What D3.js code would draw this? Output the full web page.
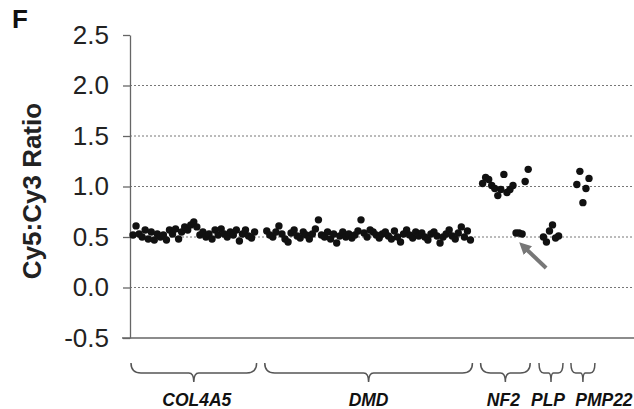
<!DOCTYPE html>
<html>
<head>
<meta charset="utf-8">
<title>Cy5:Cy3 Ratio</title>
<script src="https://cdnjs.cloudflare.com/ajax/libs/d3/7.8.5/d3.min.js"></script>
<style>
body { margin:0; background:#fff; }
svg text { font-family: Arial, "Liberation Sans", sans-serif; }
</style>
</head>
<body>
<script>
// chart data
var genes = ["COL4A5", "DMD", "NF2", "PLP", "PMP22"];
// empty probe slots between one gene and the next
var gaps = [3, 3, 4, 5];

var col4a5 = [0.52, 0.61, 0.53, 0.50, 0.57, 0.48, 0.55, 0.47, 0.53, 0.50, 0.52,
              0.47, 0.57, 0.53, 0.58, 0.48, 0.55, 0.60, 0.57, 0.62, 0.65, 0.60,
              0.52, 0.55, 0.50, 0.53, 0.48, 0.57, 0.52, 0.58, 0.53, 0.50, 0.55,
              0.52, 0.57, 0.46, 0.53, 0.57, 0.51, 0.49, 0.55];
var dmd = [0.56, 0.52, 0.50, 0.55, 0.61, 0.53, 0.48, 0.45, 0.54, 0.57, 0.51,
           0.49, 0.55, 0.52, 0.48, 0.53, 0.58, 0.67, 0.52, 0.50, 0.55, 0.48,
           0.53, 0.44, 0.51, 0.55, 0.50, 0.53, 0.49, 0.52, 0.56, 0.67, 0.54,
           0.50, 0.57, 0.55, 0.52, 0.49, 0.53, 0.55, 0.51, 0.48, 0.56, 0.50,
           0.45, 0.53, 0.57, 0.52, 0.49, 0.55, 0.51, 0.54, 0.50, 0.47, 0.53,
           0.55, 0.51, 0.44, 0.50, 0.53, 0.57, 0.51, 0.48, 0.54, 0.60, 0.50,
           0.56, 0.47];
var nf2 = [1.03, 1.09, 1.07, 1.01, 0.98, 0.91, 0.97, 1.12, 0.94, 0.97, 1.01,
           0.54, 0.54, 0.53, 1.05, 1.17];
var plp = [0.50, 0.45, 0.56, 0.62, 0.49, 0.51];
var pmp22 = [1.02, 1.15, 0.84, 0.98, 1.08];

var yTicks = [-0.5, 0.0, 0.5, 1.0, 1.5, 2.0, 2.5];
var yTickLabels = ["-0.5", "0.0", "0.5", "1.0", "1.5", "2.0", "2.5"];
var gridValues = [0.0, 0.5, 1.0, 1.5, 2.0];

var width = 634, height = 409;
var svg = d3.select("body").append("svg")
    .attr("width", width)
    .attr("height", height);

// lay the probes out one slot after another
var series = [col4a5, dmd, nf2, plp, pmp22];
var points = [], groups = [];
var slot = 0;
series.forEach(function(vals, g) {
    var first = slot;
    vals.forEach(function(v) {
        points.push({ gene: genes[g], slot: slot, v: v });
        slot++;
    });
    groups.push({ name: genes[g], from: first, to: slot - 1 });
    if (g < gaps.length) slot += gaps[g];
});

var x = d3.scaleLinear().domain([0, slot - 1]).range([133, 589]);
var y = d3.scaleLinear().domain([-0.5, 2.5]).range([338, 35]);

// dotted grid
svg.selectAll(".grid").data(gridValues).enter().append("line")
    .attr("x1", 130).attr("x2", width)
    .attr("y1", function(d) { return y(d); })
    .attr("y2", function(d) { return y(d); })
    .style("stroke", "#777")
    .style("stroke-width", 1)
    .style("stroke-dasharray", "2,2");

// bottom line
svg.append("line")
    .attr("x1", 122).attr("x2", width)
    .attr("y1", y(-0.5)).attr("y2", y(-0.5))
    .style("stroke", "#666").style("stroke-width", 1.3);

var yAxis = svg.append("g")
    .attr("transform", "translate(130,0)")
    .call(d3.axisLeft(y).tickValues(yTicks).tickSize(7).tickSizeOuter(0)
        .tickFormat(function(d, i) { return yTickLabels[i]; }));
yAxis.select(".domain").style("stroke", "#666").style("stroke-width", 1.3);
yAxis.selectAll(".tick line").style("stroke", "#666").style("stroke-width", 1.3);
yAxis.selectAll(".tick text")
    .attr("x", -21)
    .style("font-size", "26px")
    .style("fill", "#222");

// titles
svg.append("text")
    .attr("transform", "translate(41,191) rotate(-90)")
    .attr("text-anchor", "middle")
    .style("font-size", "26px").style("font-weight", "bold").style("fill", "#222")
    .text("Cy5:Cy3 Ratio");
svg.append("text")
    .attr("x", 12).attr("y", 28)
    .style("font-size", "26px").style("font-weight", "bold").style("fill", "#111")
    .text("F");

// probes
svg.selectAll(".dot").data(points).enter().append("circle")
    .attr("cx", function(d) { return x(d.slot); })
    .attr("cy", function(d) { return y(d.v); })
    .attr("r", 3.7)
    .style("fill", "#111");

// braces under each gene
function brace(x0, x1) {
    var xm = (x0 + x1) / 2, top = 363, mid = 373, tip = 382;
    var c = Math.min(10, (x1 - x0) / 5);
    return "M" + x0 + "," + top +
        " Q" + x0 + "," + mid + " " + (x0 + c) + "," + mid +
        " L" + (xm - c / 2) + "," + mid +
        " Q" + xm + "," + mid + " " + xm + "," + tip +
        " Q" + xm + "," + mid + " " + (xm + c / 2) + "," + mid +
        " L" + (x1 - c) + "," + mid +
        " Q" + x1 + "," + mid + " " + x1 + "," + top;
}
// labels sit a little off the brace centres, as in the figure
var labelShift = [3, 0, -2, -3, 21];
groups.forEach(function(g, i) {
    var a = x(g.from), b = x(g.to);
    var half = Math.max((b - a) / 2 + 2, 12);
    var m = (a + b) / 2;
    svg.append("path")
        .attr("d", brace(m - half, m + half))
        .style("fill", "none").style("stroke", "#555").style("stroke-width", 1.5);
    svg.append("text")
        .attr("x", m + labelShift[i]).attr("y", 406)
        .attr("text-anchor", "middle")
        .style("font-size", "17.5px").style("font-weight", "bold")
        .style("font-style", "italic").style("fill", "#111")
        .text(g.name);
});

// arrow pointing at the deleted NF2 probes
var target = points.filter(function(d) { return d.gene == "NF2" && d.v < 0.7; }).pop();
var tx = x(target.slot) - 2, ty = y(target.v) + 10;
svg.append("defs").append("marker")
    .attr("id", "head").attr("viewBox", "0 0 10 10")
    .attr("refX", 2).attr("refY", 5)
    .attr("markerWidth", 3).attr("markerHeight", 3.2)
    .attr("orient", "auto")
    .append("path").attr("d", "M0,0 L10,5 L0,10 z").style("fill", "#777");
svg.append("line")
    .attr("x1", tx + 26).attr("y1", ty + 24)
    .attr("x2", tx + 6).attr("y2", ty + 5)
    .style("stroke", "#777").style("stroke-width", 4)
    .attr("marker-end", "url(#head)");
</script>
</body>
</html>
